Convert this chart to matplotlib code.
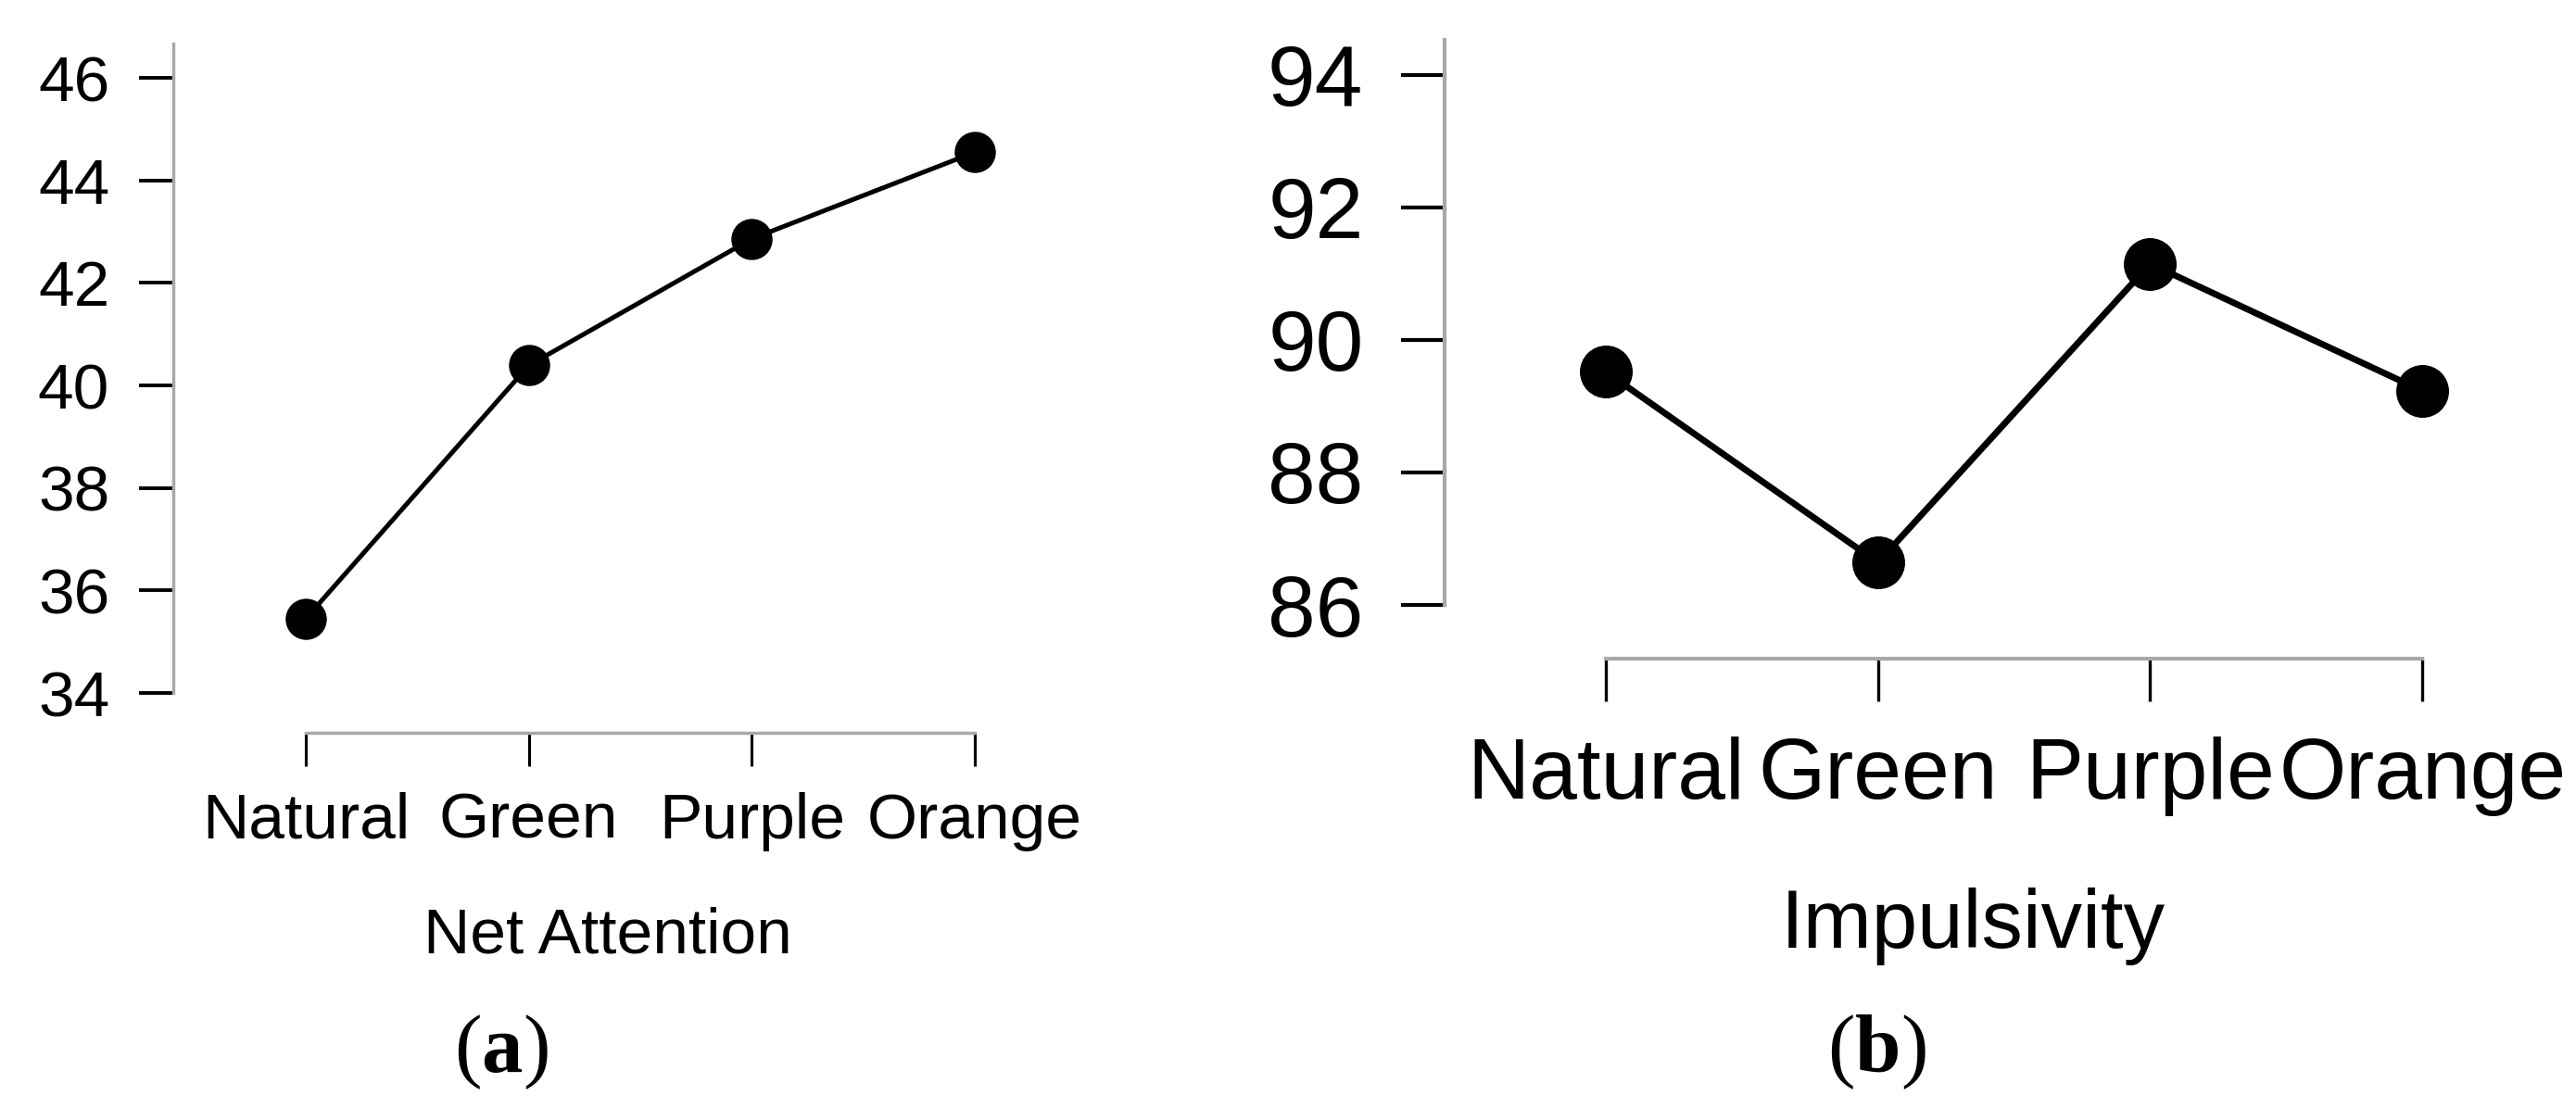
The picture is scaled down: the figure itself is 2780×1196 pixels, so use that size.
import matplotlib
matplotlib.use("Agg")
import matplotlib.pyplot as plt

plt.rcParams['font.family'] = ['Liberation Sans', 'DejaVu Sans']
plt.rcParams['mathtext.fontset'] = 'custom'
plt.rcParams['mathtext.rm'] = 'Liberation Serif'
plt.rcParams['mathtext.bf'] = 'Liberation Serif:bold'

categories = ["Natural", "Green", "Purple", "Orange"]
net_attention = [35.45, 40.39, 42.86, 44.55]
impulsivity = [89.52, 86.64, 91.15, 89.23]
yticks_a = [34, 36, 38, 40, 42, 44, 46]
yticks_b = [86, 88, 90, 92, 94]

W, H = 2780, 1196
fig = plt.figure(figsize=(W / 100, H / 100), dpi=100)

def px_rect(left, top, right, bottom):
    return [left / W, (H - bottom) / H, (right - left) / W, (bottom - top) / H]

SPINE = '#a8a8a8'

def style(ax, ylim, xlim, yticks, fs_tick, fs_label, xlabel, spine_w, tick_w,
          ytick_len, ypad, xtick_len, xpad, outward, labelpad):
    ax.set_ylim(*ylim)
    ax.set_xlim(*xlim)
    for s in ['top', 'right']:
        ax.spines[s].set_visible(False)
    ax.spines['left'].set_color(SPINE)
    ax.spines['left'].set_linewidth(spine_w)
    ax.spines['bottom'].set_color(SPINE)
    ax.spines['bottom'].set_linewidth(spine_w)
    ax.spines['bottom'].set_position(('outward', outward))
    ax.spines['bottom'].set_bounds(0, len(categories) - 1)
    ax.set_yticks(yticks)
    ax.set_yticklabels([str(t) for t in yticks])
    ax.set_xticks(range(len(categories)))
    ax.set_xticklabels(categories)
    ax.tick_params(axis='y', direction='out', length=ytick_len, width=tick_w,
                   color='black', pad=ypad, labelsize=fs_tick)
    ax.tick_params(axis='x', direction='out', length=xtick_len, width=tick_w * 0.8,
                   color='black', pad=xpad, labelsize=fs_tick)
    ax.set_xlabel(xlabel, fontsize=fs_label, labelpad=labelpad)
    ax.patch.set_alpha(0)

# Panel (a)
ax1 = fig.add_axes(px_rect(187, 47, 1124, 748))
ax1.plot(range(len(categories)), net_attention, color='black', lw=3.6,
         marker='o', ms=31, clip_on=False, zorder=3)
style(ax1, (34, 46.67), (-0.594, 3.299), yticks_a, 50, 50, "Net Attention",
      2.5, 2.8, 26.5, 23, 26, 20, 31, 43)

# Panel (b)
ax2 = fig.add_axes(px_rect(1559, 43, 2700, 653))
ax2.plot(range(len(categories)), impulsivity, color='black', lw=5.0,
         marker='o', ms=40, clip_on=False, zorder=3)
style(ax2, (86, 94.53), (-0.592, 3.292), yticks_b, 67, 64, "Impulsivity",
      3.0, 3.0, 34, 29, 33, 27, 42, 56)

# Captions
fig.text(541 / W, (H - 1157) / H, r'($\mathbf{a}$)', family='Liberation Serif',
         fontsize=64, ha='center', va='baseline')
fig.text(2025 / W, (H - 1157) / H, r'($\mathbf{b}$)', family='Liberation Serif',
         fontsize=64, ha='center', va='baseline')

fig.savefig("out.png", dpi=100, facecolor='white')
